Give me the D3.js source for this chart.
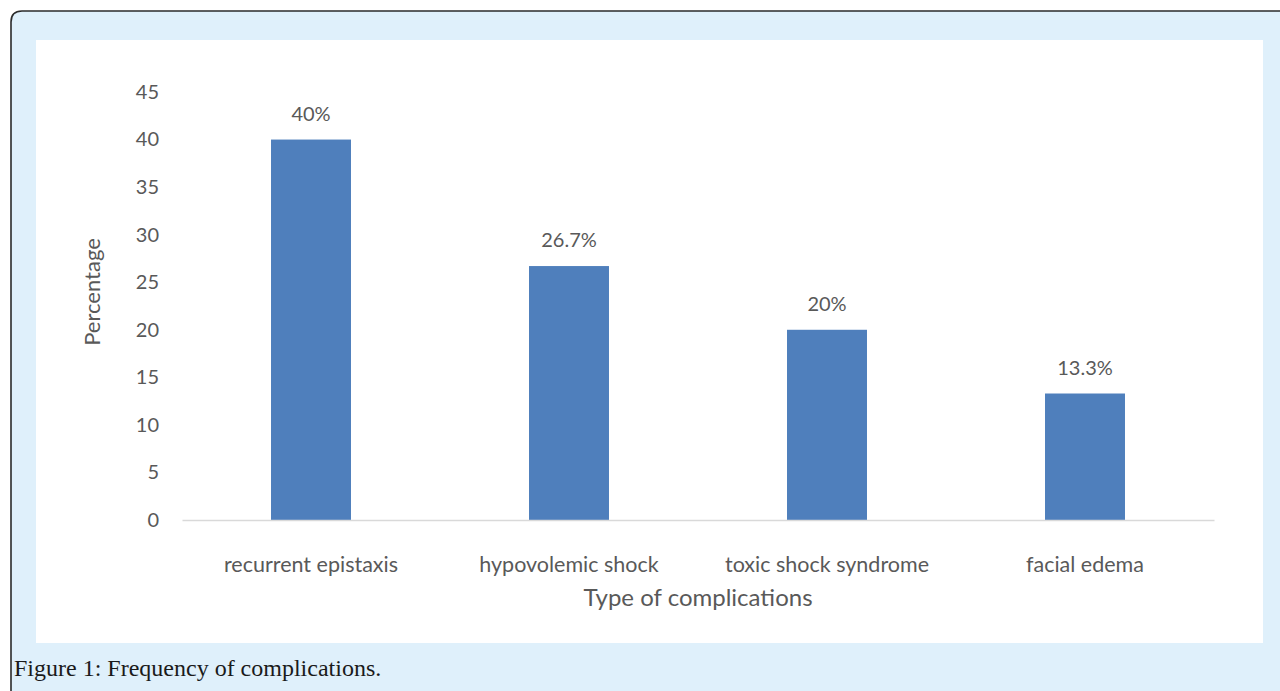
<!DOCTYPE html>
<html>
<head>
<meta charset="utf-8">
<script src="https://cdn.jsdelivr.net/npm/d3@7"></script>
<style>
  html, body { margin: 0; padding: 0; background: #ffffff; }
  svg { display: block; }
</style>
</head>
<body>
<svg id="chart" width="1280" height="691"></svg>
<script>
const categories = ["recurrent epistaxis", "hypovolemic shock", "toxic shock syndrome", "facial edema"];
const values = [40, 26.7, 20, 13.3];
const valueLabels = ["40%", "26.7%", "20%", "13.3%"];
const yTicks = [0, 5, 10, 15, 20, 25, 30, 35, 40, 45];
const yTitle = "Percentage";
const xTitle = "Type of complications";
const caption = "Figure 1: Frequency of complications.";

const svg = d3.select("#chart");
const chartFont = "Lato, 'Open Sans', sans-serif";
const textColor = "#595959";

// outer light-blue frame with rounded top-left corner
svg.append("path")
  .attr("d", "M11,700 L11,22 Q11,11 22,11 L1290,11 L1290,700 Z")
  .attr("fill", "#dff0fb")
  .attr("stroke", "#2b2b2b")
  .attr("stroke-width", 1.6);

// white chart panel
svg.append("rect")
  .attr("x", 36).attr("y", 40)
  .attr("width", 1227).attr("height", 603)
  .attr("fill", "#ffffff");

const x = d3.scaleBand().domain(categories).range([182, 1214]).paddingInner(0.69).paddingOuter(0.345);
const y = d3.scaleLinear().domain([0, 45]).range([520, 92]);

// y axis labels
const yAxis = svg.append("g")
  .attr("transform", "translate(167,0)")
  .call(d3.axisLeft(y).tickValues(yTicks).tickSize(0).tickPadding(8));
yAxis.select(".domain").remove();
yAxis.selectAll("text")
  .attr("font-family", chartFont)
  .attr("font-size", 20)
  .attr("fill", textColor);

// bars
svg.append("g").selectAll("rect")
  .data(values)
  .join("rect")
  .attr("x", (d, i) => x(categories[i]))
  .attr("y", d => y(d))
  .attr("width", x.bandwidth())
  .attr("height", d => y(0) - y(d))
  .attr("fill", "#4f7fbc");

// x axis
const xAxis = svg.append("g")
  .attr("transform", `translate(0,${y(0)})`)
  .call(d3.axisBottom(x).tickSize(0).tickSizeOuter(0).tickPadding(0));
xAxis.select(".domain").attr("stroke", "#d9d9d9").attr("stroke-width", 1.5);
xAxis.selectAll("text")
  .attr("font-family", chartFont)
  .attr("font-size", 21.5)
  .attr("fill", textColor)
  .attr("dy", null)
  .attr("y", 52);

// value labels
svg.append("g").selectAll("text")
  .data(values)
  .join("text")
  .attr("x", (d, i) => x(categories[i]) + x.bandwidth() / 2)
  .attr("y", d => y(d) - 19)
  .attr("text-anchor", "middle")
  .attr("font-family", chartFont)
  .attr("font-size", 20)
  .attr("fill", textColor)
  .text((d, i) => valueLabels[i]);

// axis titles
svg.append("text")
  .attr("transform", "translate(100,292) rotate(-90)")
  .attr("text-anchor", "middle")
  .attr("font-family", chartFont)
  .attr("font-size", 22)
  .attr("fill", textColor)
  .text(yTitle);

svg.append("text")
  .attr("x", 698).attr("y", 606)
  .attr("text-anchor", "middle")
  .attr("font-family", chartFont)
  .attr("font-size", 24)
  .attr("fill", textColor)
  .text(xTitle);

// caption
svg.append("text")
  .attr("x", 14).attr("y", 676)
  .attr("font-family", "'Liberation Serif', 'DejaVu Serif', serif")
  .attr("font-size", 24)
  .attr("fill", "#1a1a1a")
  .text(caption);
</script>
</body>
</html>
